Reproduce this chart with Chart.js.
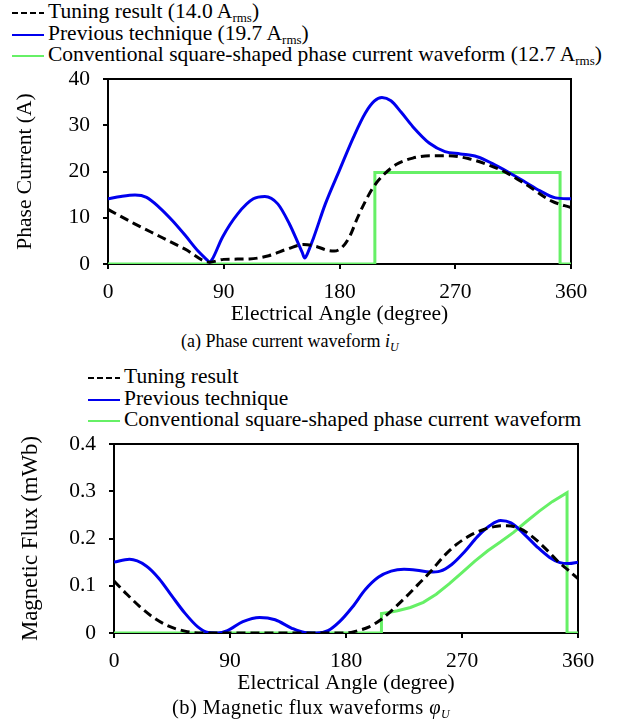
<!DOCTYPE html>
<html>
<head>
<meta charset="utf-8">
<script src="https://cdn.jsdelivr.net/npm/chart.js@4.4.1/dist/chart.umd.min.js"></script>
<style>
  html, body { margin: 0; padding: 0; background: #fff; }
  body { width: 623px; height: 723px; position: relative; overflow: hidden;
         font-family: 'Liberation Serif', 'Times New Roman', serif; color: #000; }
  .legend { position: absolute; font-size: 21.5px; white-space: nowrap; }
  .legend div { height: 21.5px; line-height: 21.5px; }
  .legend svg { vertical-align: middle; margin-right: 4px; }
  sub { font-size: 13px; vertical-align: -4px; line-height: 0; }
  .cap { position: absolute; font-size: 18px; line-height: 20px; white-space: nowrap; }
  .cap sub { font-size: 12px; }
  .plot { position: absolute; left: 0; width: 623px; }
</style>
</head>
<body>

<div class="legend" style="left:12px; top:1px;">
  <div><svg width="32" height="4"><line x1="0" y1="2" x2="32" y2="2" stroke="#000" stroke-width="2" stroke-dasharray="6,3"/></svg>Tuning result (14.0 A<sub>rms</sub>)</div>
  <div><svg width="32" height="4"><line x1="0" y1="2" x2="32" y2="2" stroke="#0000ee" stroke-width="2"/></svg>Previous technique (19.7 A<sub>rms</sub>)</div>
  <div><svg width="32" height="4"><line x1="0" y1="2" x2="32" y2="2" stroke="#66f066" stroke-width="2"/></svg>Conventional square-shaped phase current waveform (12.7 A<sub>rms</sub>)</div>
</div>

<div class="plot" style="top:60px; height:268px;"><canvas id="chartA"></canvas></div>
<div class="cap" style="left:181px; top:331px;">(a) Phase current waveform <i>i</i><sub><i>U</i></sub></div>

<div class="legend" style="left:88px; top:366px;">
  <div><svg width="32" height="4"><line x1="0" y1="2" x2="32" y2="2" stroke="#000" stroke-width="2" stroke-dasharray="6,3"/></svg>Tuning result</div>
  <div><svg width="32" height="4"><line x1="0" y1="2" x2="32" y2="2" stroke="#0000ee" stroke-width="2"/></svg>Previous technique</div>
  <div><svg width="32" height="4"><line x1="0" y1="2" x2="32" y2="2" stroke="#66f066" stroke-width="2"/></svg>Conventional square-shaped phase current waveform</div>
</div>

<div class="plot" style="top:425px; height:272px;"><canvas id="chartB"></canvas></div>
<div class="cap" style="left:172px; top:697px; font-size:20.5px; letter-spacing:0.4px;">(b) Magnetic flux waveforms <i>φ</i><sub><i>U</i></sub></div>

<script>
// angle ticks (degree)
const angleMin = 0;
const angleMax = 360;
const angleStep = 90;

// (a) phase current, A
const tuningAngleA = [0, 20, 40, 60, 79, 90, 110, 125, 140, 152, 162, 170, 176, 182, 188, 194, 200, 206, 214, 224, 237, 250, 265, 280, 295, 310, 325, 345, 360];
const tuningCurrentA = [11.8, 8.8, 6.0, 3.2, 0.4, 1.0, 1.1, 1.8, 3.3, 4.2, 3.8, 3.0, 2.8, 3.6, 6.0, 10.0, 13.5, 16.5, 19.2, 21.5, 22.9, 23.4, 23.4, 22.8, 21.5, 19.7, 17.2, 13.6, 12.2];

const previousAngleA = [0, 10, 21, 30, 40, 50, 60, 70, 77, 79, 81, 89, 101, 113, 122, 132, 141, 148, 151, 153, 155, 160, 169, 180, 191, 200, 207, 213, 220, 228, 237, 250, 262, 274, 287, 299, 311, 324, 336, 348, 360];
const previousCurrentA = [14.1, 14.6, 14.9, 14.4, 12.2, 9.4, 6.2, 2.8, 0.9, 0.4, 1.0, 5.8, 10.9, 14.1, 14.6, 13.0, 8.7, 4.4, 2.5, 1.3, 2.2, 5.8, 13.0, 20.3, 27.5, 32.6, 35.2, 36.0, 35.3, 32.8, 29.7, 26.1, 24.3, 23.8, 23.2, 21.7, 19.9, 17.8, 15.8, 14.3, 14.1];

const squareAngleA = [0, 207.5, 207.5, 351.5, 351.5, 360];
const squareCurrentA = [0, 0, 19.8, 19.8, 0, 0];

// (b) magnetic flux, mWb
const tuningAngleB = [0, 10, 20, 30, 42, 55, 68, 180, 188, 198, 207, 216, 226, 236, 246, 256, 266, 276, 287, 297, 305, 315, 325, 335, 345, 352, 360];
const tuningFluxB = [0.110, 0.082, 0.056, 0.034, 0.015, 0.004, 0, 0, 0.004, 0.013, 0.028, 0.049, 0.075, 0.103, 0.131, 0.163, 0.188, 0.206, 0.219, 0.226, 0.227, 0.221, 0.203, 0.178, 0.150, 0.134, 0.115];

const previousAngleB = [0, 12, 25, 35, 45, 55, 65, 73, 80, 88, 100, 113, 125, 138, 148, 157, 166, 175, 185, 195, 205, 215, 225, 235, 245, 253, 262, 272, 282, 292, 300, 308, 318, 328, 338, 346, 353, 360];
const previousFluxB = [0.150, 0.156, 0.142, 0.115, 0.078, 0.042, 0.013, 0.001, 0, 0.005, 0.024, 0.033, 0.028, 0.010, 0.001, 0, 0.005, 0.024, 0.055, 0.092, 0.118, 0.131, 0.135, 0.133, 0.129, 0.131, 0.145, 0.172, 0.204, 0.228, 0.238, 0.233, 0.210, 0.183, 0.160, 0.149, 0.147, 0.150];

const squareAngleB = [0, 207.5, 207.5, 212, 220, 230, 240, 250, 260, 270, 280, 290, 300, 310, 320, 330, 340, 351.5, 351.5, 360];
const squareFluxB = [0, 0, 0.041, 0.043, 0.047, 0.054, 0.065, 0.082, 0.104, 0.128, 0.152, 0.174, 0.193, 0.213, 0.236, 0.258, 0.278, 0.297, 0, 0];

const toPoints = (xs, ys) => xs.map((x, i) => ({ x: x, y: ys[i] }));

// draw the top and right edges of the plot box
const framePlugin = {
  id: "frame",
  beforeDatasetsDraw(chart) {
    const { ctx, chartArea: a } = chart;
    ctx.save();
    ctx.strokeStyle = "#000";
    ctx.lineWidth = 2;
    ctx.beginPath();
    ctx.moveTo(a.left - 1, a.top);
    ctx.lineTo(a.right, a.top);
    ctx.lineTo(a.right, a.bottom);
    ctx.stroke();
    ctx.restore();
  },
};

function makeChart(id, opts) {
  const family = "'Liberation Serif', 'Times New Roman', serif";
  const font = { family: family, size: 21.5 };
  return new Chart(document.getElementById(id), {
    type: "line",
    data: {
      datasets: [
        {
          label: "Tuning result",
          data: opts.tuning,
          borderColor: "#000",
          borderWidth: 3,
          borderDash: [9, 5],
          pointRadius: 0,
          cubicInterpolationMode: "monotone",
        },
        {
          label: "Previous technique",
          data: opts.previous,
          borderColor: "#0000ee",
          borderWidth: 3,
          pointRadius: 0,
          cubicInterpolationMode: "monotone",
        },
        {
          label: "Conventional square-shaped phase current waveform",
          data: opts.square,
          borderColor: "#66f066",
          borderWidth: 3,
          pointRadius: 0,
          tension: 0,
        },
      ],
    },
    options: {
      responsive: true,
      maintainAspectRatio: false,
      animation: false,
      layout: { padding: { top: 19, right: opts.right, left: 0, bottom: 0 } },
      plugins: { legend: { display: false }, tooltip: { enabled: false } },
      scales: {
        x: {
          type: "linear",
          min: angleMin,
          max: angleMax,
          afterFit: (s) => { s.height = 64; },
          ticks: { stepSize: angleStep, color: "#000", font: font, padding: 10, maxRotation: 0 },
          grid: { drawOnChartArea: false, drawTicks: true, tickLength: 5, color: "#000", lineWidth: 2 },
          border: { display: true, color: "#000", width: 2 },
          title: { display: true, text: "Electrical Angle (degree)", color: "#000", font: font, padding: { top: 0, bottom: 1 } },
        },
        y: {
          min: 0,
          max: opts.yMax,
          // fixed axis width; drop the label padding so the plot top stays put
          afterFit: (s) => { s.width = opts.left; s.paddingTop = 0; s.paddingBottom = 0; },
          ticks: { stepSize: opts.yStep, color: "#000", font: font, padding: 13 },
          grid: { drawOnChartArea: false, drawTicks: true, tickLength: 5, color: "#000", lineWidth: 2 },
          border: { display: true, color: "#000", width: 2 },
          title: { display: true, text: opts.yTitle, color: "#000", font: { family: family, size: opts.yTitleSize }, padding: { top: opts.titlePad, bottom: 0 } },
        },
      },
    },
    plugins: [framePlugin],
  });
}

makeChart("chartA", {
  tuning: toPoints(tuningAngleA, tuningCurrentA),
  previous: toPoints(previousAngleA, previousCurrentA),
  square: toPoints(squareAngleA, squareCurrentA),
  yMax: 40, yStep: 10, yTitle: "Phase Current (A)", yTitleSize: 21.5,
  left: 108, right: 52, titlePad: 12,
});

makeChart("chartB", {
  tuning: toPoints(tuningAngleB, tuningFluxB),
  previous: toPoints(previousAngleB, previousFluxB),
  square: toPoints(squareAngleB, squareFluxB),
  yMax: 0.4, yStep: 0.1, yTitle: "Magnetic Flux (mWb)", yTitleSize: 22.8,
  left: 114, right: 45, titlePad: 17,
});
</script>
</body>
</html>
